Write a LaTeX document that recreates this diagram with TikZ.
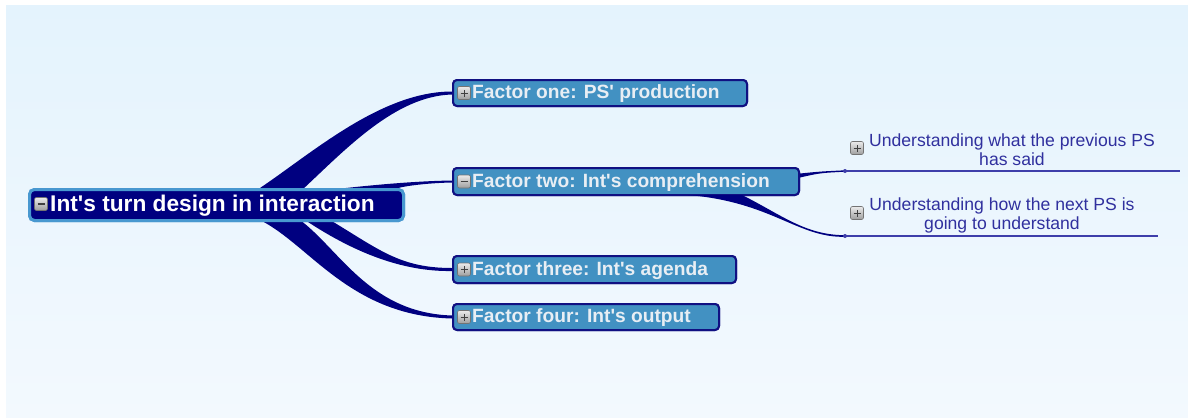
\documentclass[tikz,border=0pt]{standalone}
\usepackage{fontspec}
\setmainfont{Liberation Sans}
\usetikzlibrary{calc}
\definecolor{bgtop}{RGB}{228,243,253}
\definecolor{bgbot}{RGB}{243,249,254}
\definecolor{deepnavy}{RGB}{0,0,128}
\definecolor{rootrim}{RGB}{72,152,208}
\definecolor{factorfill}{RGB}{66,145,194}
\definecolor{factorrim}{RGB}{16,16,130}
\definecolor{factortext}{RGB}{232,238,244}
\definecolor{subtext}{RGB}{48,48,158}
\definecolor{subline}{RGB}{62,62,170}
\newcommand{\sq}{\textquotesingle}
\tikzset{
  rootbox/.style={draw=rootrim, line width=3pt, fill=deepnavy, rounded corners=5pt,
    inner sep=0pt, minimum width=374pt, minimum height=31pt},
  factorbox/.style={draw=factorrim, line width=2pt, fill=factorfill, rounded corners=4pt,
    inner sep=0pt},
  roottext/.style={anchor=west, inner sep=0pt, text=white,
    font=\bfseries\fontsize{22.7}{26}\selectfont},
  factorlabel/.style={anchor=west, inner sep=0pt, text=factortext,
    font=\bfseries\fontsize{19.2}{22}\selectfont},
  subtopic/.style={align=center, inner sep=0pt, text=subtext,
    font=\fontsize{17.6}{19}\selectfont},
  branch/.style={fill=deepnavy},
  underline/.style={draw=subline, line width=1.3pt},
  iconbase/.style={draw=black!55, line width=0.6pt, rounded corners=2pt,
    top color=white!92!black, bottom color=black!38, minimum size=13pt, inner sep=0pt},
  plusicon/.style={iconbase, path picture={
    \draw[black!75, line width=1pt]
      ([xshift=-3.5pt]path picture bounding box.center) -- ++(7pt,0pt)
      ([yshift=-3.5pt]path picture bounding box.center) -- ++(0pt,7pt);}},
  minusicon/.style={iconbase, path picture={
    \draw[black!75, line width=1.2pt]
      ([xshift=-3.5pt]path picture bounding box.center) -- ++(7pt,0pt);}},
}
\begin{document}
\begin{tikzpicture}[x=1pt,y=-1pt]
\useasboundingbox (0,0) rectangle (1188,418);
\shade[top color=bgtop, bottom color=bgbot] (6,5) rectangle (1188,417);

% boxes (positions only; text is set separately)
\node[rootbox] (root) at (216.5,205) {};
\node[factorbox, minimum width=294pt, minimum height=26pt] (f1) at (600,93) {};
\node[factorbox, minimum width=346pt, minimum height=27pt] (f2) at (626,181.5) {};
\node[factorbox, minimum width=283pt, minimum height=27pt] (f3) at (594.5,269.5) {};
\node[factorbox, minimum width=266pt, minimum height=26pt] (f4) at (586,317) {};

% tapered branches from the central topic
\fill[branch] (257,190) .. controls (310,155) and (380,91.5) .. ([yshift=1.5pt]f1.west)
  -- ([yshift=-1.5pt]f1.west) .. controls (395,96) and (345,150) .. (302,190) -- cycle;
\fill[branch] (328,190) .. controls (380,184) and (420,181) .. ([yshift=1pt]f2.west)
  -- ([yshift=-1pt]f2.west) .. controls (425,183) and (395,187) .. (394,190) -- cycle;
\fill[branch] (330,220) .. controls (380,250) and (400,268) .. ([yshift=1.5pt]f3.west)
  -- ([yshift=-1.5pt]f3.west) .. controls (400,272) and (350,250) .. (305,220) -- cycle;
\fill[branch] (300,220) .. controls (340,250) and (370,313) .. ([yshift=1.5pt]f4.west)
  -- ([yshift=-1.5pt]f4.west) .. controls (350,316) and (310,245) .. (260,220) -- cycle;

% redraw boxes on top of branch roots
\node[rootbox] at (root.center) {};
\node[factorbox, minimum width=294pt, minimum height=26pt] at (f1.center) {};
\node[factorbox, minimum width=346pt, minimum height=27pt] at (f2.center) {};
\node[factorbox, minimum width=283pt, minimum height=27pt] at (f3.center) {};
\node[factorbox, minimum width=266pt, minimum height=26pt] at (f4.center) {};

% labels and fold icons
\node[minusicon] (rooticon) at (41,204) {};
\node[roottext] (roottxt) at (50,206) {Int\sq s turn design in interaction};
\node[plusicon] (f1icon) at (464,93) {};
\node[factorlabel] (f1txt) at (472,94) {Factor one: PS\sq\ production};
\node[minusicon] (f2icon) at (464,181.5) {};
\node[factorlabel] (f2txt) at (472,182.5) {Factor two: Int\sq s comprehension};
\node[plusicon] (f3icon) at (464,269.5) {};
\node[factorlabel] (f3txt) at (472,270.5) {Factor three: Int\sq s agenda};
\node[plusicon] (f4icon) at (464,317) {};
\node[factorlabel] (f4txt) at (472,318) {Factor four: Int\sq s output};

% sub-topics of factor two
\coordinate (s1end) at (845,171);
\coordinate (s2end) at (845,236);
\fill[branch] ([yshift=8pt]f2.east) .. controls (820,171.5) .. ([yshift=0.7pt]s1end)
  -- ([yshift=-0.7pt]s1end) .. controls (820,173) .. ([yshift=4pt]f2.east) -- cycle;
\fill[branch] (742,195) .. controls (782,215) and (805,235) .. ([yshift=0.8pt]s2end)
  -- ([yshift=-0.8pt]s2end) .. controls (798,238) and (772,202) .. (688,195) -- cycle;
\fill[subline] (s1end) circle (2pt);
\fill[subline] (s2end) circle (2pt);
\coordinate (s1tail) at (1180,171);
\coordinate (s2tail) at (1158,236);
\draw[underline] (s1end) -- (s1tail);
\draw[underline] (s2end) -- (s2tail);
\node[plusicon] (s1icon) at (857,148) {};
\node[subtopic] (s1) at (1012,150) {Understanding what the previous PS\\has said};
\node[plusicon] (s2icon) at (857,213) {};
\node[subtopic] (s2) at (1002,215) {Understanding how the next PS is\\going to understand};
\end{tikzpicture}
\end{document}
